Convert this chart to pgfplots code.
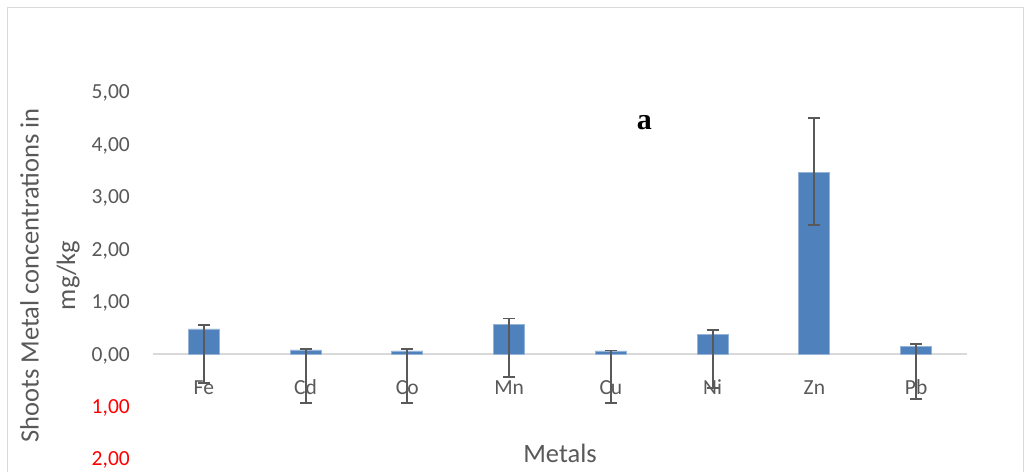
\documentclass[border=0pt]{standalone}
\usepackage{pgfplots}
\pgfplotsset{compat=1.18}
\usepackage{fontspec}
\setmainfont{Carlito}
\newfontfamily\serifb{Liberation Serif}
\definecolor{txtgray}{HTML}{595959}
\definecolor{barblue}{HTML}{4F81BD}
\definecolor{linegray}{HTML}{D9D9D9}
\definecolor{errgray}{HTML}{595959}
\begin{document}
\begin{tikzpicture}[x=1bp,y=1bp]
\draw[linegray, line width=1.2bp] (7.5,0) -- (7.5,464.5) -- (1023.5,464.5) -- (1023.5,0);
\begin{axis}[
  at={(153bp,13bp)}, anchor=south west,
  scale only axis, width=814bp, height=367bp,
  xmin=-0.5, xmax=7.5, ymin=-2, ymax=5,
  axis x line*=middle, axis y line*=left,
  x axis line style={-, linegray, line width=1.3bp},
  y axis line style={draw=none},
  xtick={0,1,2,3,4,5,6,7},
  xticklabels={Fe,Cd,Co,Mn,Cu,Ni,Zn,Pb},
  ytick={-2,-1,0,1,2,3,4,5},
  yticklabels={{\textcolor{red}{2,00}},{\textcolor{red}{1,00}},{0,00},{1,00},{2,00},{3,00},{4,00},{5,00}},
  tick style={draw=none},
  ticklabel style={font=\fontsize{21.5bp}{24bp}\selectfont, text=txtgray},
  xticklabel style={anchor=base, yshift=-40bp, inner sep=0pt},
  yticklabel style={anchor=east, inner sep=0pt, xshift=-23bp, text depth=0pt},
  ylabel={Shoots Metal concentrations in\\mg/kg},
  ylabel style={at={(axis description cs:-0.1265,0.5)}, anchor=center, align=center, font=\fontsize{26.5bp}{36.5bp}\selectfont, text=txtgray, rotate=0},
  xlabel={Metals},
  xlabel style={at={(axis description cs:0.5,0.014)}, anchor=center, font=\fontsize{26.5bp}{30bp}\selectfont, text=txtgray},
  clip=false,
]
\addplot[ybar, bar width=31bp, fill=barblue, draw=barblue!60!white, line width=0.8bp,
  error bars/.cd, y dir=both, y explicit,
  error bar style={errgray, line width=1.9bp},
  error mark options={rotate=90, mark size=6bp, errgray, line width=1.9bp}]
coordinates {
 (0,0.48) += (0,0.07) -= (0,1.03)
 (1,0.08) += (0,0.01) -= (0,1.01)
 (2,0.06) += (0,0.03) -= (0,1.00)
 (3,0.57) += (0,0.11) -= (0,1.00)
 (4,0.06) += (0,0.01) -= (0,1.00)
 (5,0.37) += (0,0.09) -= (0,1.02)
 (6,3.47) += (0,1.03) -= (0,1.01)
 (7,0.15) += (0,0.04) -= (0,1.00)
};
\node[font=\serifb\bfseries\fontsize{30bp}{32bp}\selectfont, anchor=center] at (axis cs:4.33,4.41) {a};
\end{axis}
\pgfresetboundingbox
\useasboundingbox (0,0) rectangle (1031,472);
\end{tikzpicture}
\end{document}
